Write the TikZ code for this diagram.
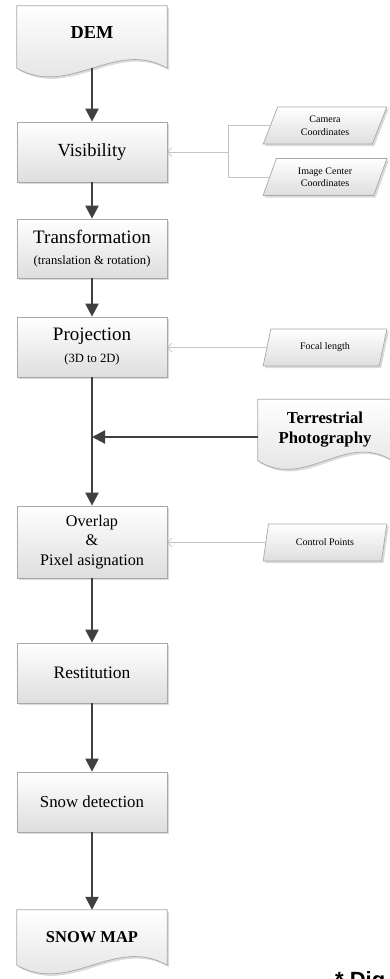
\documentclass[tikz,border=0pt]{standalone}
\usepackage{fontspec}
\setmainfont{Liberation Serif}
\newfontfamily\digfont{Liberation Sans}
\usetikzlibrary{arrows.meta,shapes.geometric,shadows,backgrounds,calc}
\definecolor{arrowgray}{HTML}{404040}
\definecolor{boxline}{HTML}{A8A8A8}
\definecolor{liteline}{HTML}{C4C4C4}
\tikzset{
  boxshade/.style={draw=boxline, line width=0.7pt, top color=white, bottom color=black!13,
    drop shadow={shadow xshift=2pt, shadow yshift=-2pt, fill=black!20, opacity=0.7}},
  procbox/.style={rectangle, boxshade, minimum width=150pt, align=center, inner sep=0pt},
  docnode/.style={rectangle, minimum width=150pt, align=center, inner sep=0pt},
  docfill/.style={boxshade},
  inbox/.style={trapezium, trapezium left angle=69, trapezium right angle=111,
    trapezium stretches=true, minimum width=124pt, minimum height=37pt, boxshade,
    align=center, inner sep=0pt, font=\fontsize{10}{12.5}\selectfont},
  flow/.style={draw=arrowgray, line width=2.1pt, -{Triangle[length=13pt,width=13pt]}},
  lite/.style={draw=liteline, line width=0.7pt},
  litearrow/.style={lite, -{Straight Barb[length=4pt,width=9pt]}}
}
\newcommand\docwave[2]{%
  \path[docfill] (#1.north west) -- (#1.north east) -- (#1.south east)
    .. controls ($(#1.south east)+(-0.35*#2,-30)$) and ($(#1.south east)+(-0.65*#2,30)$) ..
    (#1.south west) -- cycle;}
\begin{document}
\begin{tikzpicture}[x=1pt,y=-1pt]
\useasboundingbox (0,0) rectangle (390,979);
% main column
\node[docnode, minimum height=62pt, text depth=8pt, font=\bfseries\fontsize{18.3}{20}\selectfont] (dem) at (92,37) {DEM};
\node[procbox, minimum height=60pt, font=\fontsize{18.5}{22}\selectfont] (vis) at (92,152) {Visibility};
\node[procbox, minimum height=59pt, font=\fontsize{19}{21}\selectfont] (trans) at (92,248.5)
  {Transformation\\{\fontsize{12.6}{21}\selectfont (translation \& rotation)}};
\node[procbox, minimum height=60pt, font=\fontsize{19}{22}\selectfont] (proj) at (92,347)
  {Projection\\{\fontsize{12.6}{22}\selectfont (3D to 2D)}};
\node[procbox, minimum height=72pt, font=\fontsize{16.2}{19.5}\selectfont] (over) at (92,542)
  {Overlap\\\&\\Pixel asignation};
\node[procbox, minimum height=60pt, font=\fontsize{17.5}{20}\selectfont] (rest) at (92,673) {Restitution};
\node[procbox, minimum height=60pt, font=\fontsize{16.8}{20}\selectfont] (snow) at (92,802) {Snow detection};
\node[docnode, minimum height=55pt, font=\bfseries\fontsize{16.5}{20}\selectfont] (map) at (92,937.5) {SNOW MAP};
% right column
\node[inbox] (cam) at (325,125.5) {Camera\\Coordinates};
\node[inbox] (img) at (325,177) {Image Center\\Coordinates};
\node[inbox] (focal) at (325,347.5) {Focal length};
\node[inbox] (ctrl) at (325,542.5) {Control Points};
\node[docnode, minimum width=134pt, minimum height=61pt, font=\bfseries\fontsize{16.7}{20}\selectfont] (terr) at (325,430)
  {Terrestrial\\Photography};
\node[anchor=north west, inner sep=0pt, font=\digfont\bfseries\fontsize{22}{24}\selectfont] (dig) at (335,971.5) {* Dig};
% background: page and document shapes
\begin{scope}[on background layer]
  \fill[white] (0,0) rectangle (390,979);
  \docwave{dem}{150}
  \docwave{map}{150}
  \docwave{terr}{134}
\end{scope}
% main flow
\draw[flow] (dem) -- (vis);
\draw[flow] (vis) -- (trans);
\draw[flow] (trans) -- (proj);
\draw[flow] (proj) -- (over);
\draw[flow] (over) -- (rest);
\draw[flow] (rest) -- (snow);
\draw[flow] (snow) -- (map);
\coordinate (tj) at (92,437);
\draw[flow] (terr.west |- tj) -- (tj);
% light inputs
\coordinate (brc) at (228,152);
\draw[lite] (cam.left side) -| (brc);
\draw[lite] (img.left side) -| (brc);
\draw[litearrow] (brc) -- (vis.east);
\draw[litearrow] (focal.left side) -- (focal.left side -| proj.east);
\draw[litearrow] (ctrl.left side) -- (ctrl.left side -| over.east);
\end{tikzpicture}
\end{document}
